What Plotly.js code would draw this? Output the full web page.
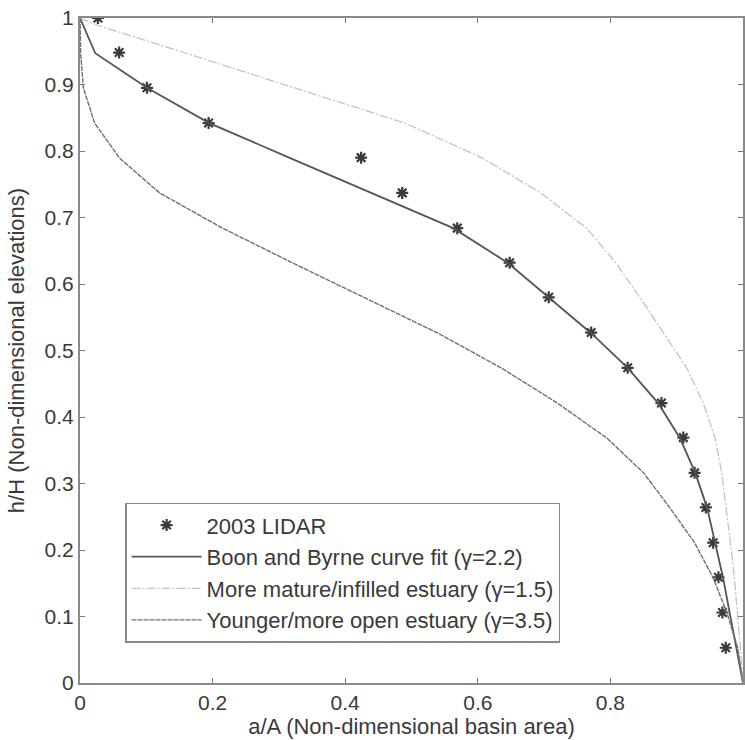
<!DOCTYPE html>
<html>
<head>
<meta charset="utf-8">
<script src="https://cdn.plot.ly/plotly-3.0.1.min.js"></script>
<style>
  html, body { margin: 0; padding: 0; background: #ffffff; }
  #chart { width: 745px; height: 740px; }
</style>
</head>
<body>
<div id="chart"></div>
<script>
// 2003 LIDAR observations
const lidarX = [0.027, 0.059, 0.101, 0.194, 0.424, 0.486, 0.569, 0.648, 0.707, 0.771, 0.826, 0.877, 0.910, 0.927, 0.944, 0.955, 0.963, 0.969, 0.974];
const lidarY = [1.000, 0.948, 0.895, 0.842, 0.790, 0.737, 0.684, 0.632, 0.580, 0.527, 0.474, 0.421, 0.369, 0.316, 0.264, 0.211, 0.159, 0.106, 0.053];

// Boon and Byrne curve fit (gamma = 2.2)
const fitX = [0, 0.023, 0.101, 0.195, 0.318, 0.440, 0.563, 0.645, 0.708, 0.771, 0.826, 0.872, 0.905, 0.928, 0.946, 0.958, 0.970, 0.980, 0.990, 1.000];
const fitY = [1, 0.947, 0.895, 0.842, 0.789, 0.737, 0.684, 0.632, 0.579, 0.526, 0.474, 0.421, 0.368, 0.316, 0.263, 0.211, 0.158, 0.105, 0.053, 0];

// More mature / infilled estuary (gamma = 1.5)
const matureX = [0, 0.030, 0.160, 0.323, 0.490, 0.608, 0.695, 0.764, 0.808, 0.845, 0.880, 0.915, 0.940, 0.958, 0.968, 0.975, 0.981, 0.987, 0.992, 0.996, 1.000];
const matureY = [1, 0.988, 0.947, 0.895, 0.842, 0.789, 0.737, 0.684, 0.632, 0.579, 0.526, 0.474, 0.421, 0.368, 0.316, 0.263, 0.211, 0.158, 0.105, 0.053, 0];

// Younger / more open estuary (gamma = 3.5)
const youngX = [0, 0.001, 0.005, 0.022, 0.060, 0.120, 0.215, 0.320, 0.430, 0.540, 0.635, 0.720, 0.795, 0.850, 0.890, 0.927, 0.955, 0.976, 0.992, 1.000];
const youngY = [1, 0.947, 0.895, 0.842, 0.789, 0.737, 0.684, 0.632, 0.579, 0.526, 0.474, 0.421, 0.368, 0.316, 0.263, 0.211, 0.158, 0.105, 0.053, 0];

const xTickVals = [0, 0.2, 0.4, 0.6, 0.8, 1];
const xTickText = ['0', '0.2', '0.4', '0.6', '0.8', ''];
const yTickVals = [0, 0.1, 0.2, 0.3, 0.4, 0.5, 0.6, 0.7, 0.8, 0.9, 1];
const yTickText = ['0', '0.1', '0.2', '0.3', '0.4', '0.5', '0.6', '0.7', '0.8', '0.9', '1'];

const seriesNames = [
  '2003 LIDAR',
  'Boon and Byrne curve fit (\u03b3=2.2)',
  'More mature/infilled estuary (\u03b3=1.5)',
  'Younger/more open estuary (\u03b3=3.5)'
];

const FONT = 'Liberation Sans, Arial, sans-serif';
const TXT = '#3a3a3a';

const traces = [
  {
    x: lidarX, y: lidarY, type: 'scatter', mode: 'markers', name: seriesNames[0],
    legendgroup: 'a',
    marker: { symbol: 'asterisk-open', size: 10, color: '#3a3a3a', line: { color: '#3a3a3a', width: 2.2 } }
  },
  {
    x: fitX, y: fitY, type: 'scatter', mode: 'lines', name: seriesNames[1],
    legendgroup: 'b',
    line: { color: '#555555', width: 1.8 }
  },
  {
    x: matureX, y: matureY, type: 'scatter', mode: 'lines', name: seriesNames[2],
    legendgroup: 'c',
    line: { color: '#c4c4c4', width: 1.3, dash: '9px,2px,2px,2px' }
  },
  {
    x: youngX, y: youngY, type: 'scatter', mode: 'lines', name: seriesNames[3],
    legendgroup: 'd',
    line: { color: '#707070', width: 1.4, dash: '5px,1px' }
  }
];

const layout = {
  width: 745, height: 740,
  margin: { l: 80, r: 2, t: 18, b: 57 },
  paper_bgcolor: '#ffffff', plot_bgcolor: '#ffffff',
  font: { family: FONT, color: TXT, size: 22 },
  showlegend: true,
  legend: {
    x: 0.068, y: 0.271, xanchor: 'left', yanchor: 'top',
    bgcolor: '#ffffff', bordercolor: '#8a8a8a', borderwidth: 1.5,
    font: { family: FONT, size: 22, color: TXT },
    traceorder: 'grouped', tracegroupgap: 0,
    itemwidth: 70
  },
  xaxis: {
    range: [0, 1], tickvals: xTickVals, ticktext: xTickText,
    showgrid: false, zeroline: false,
    showline: true, mirror: 'ticks', linecolor: '#8a8a8a', linewidth: 2,
    ticks: 'inside', ticklen: 5, tickcolor: '#777777', tickwidth: 1,
    tickfont: { family: FONT, size: 21, color: TXT },
    title: { text: 'a/A (Non-dimensional basin area)', font: { family: FONT, size: 22, color: TXT }, standoff: 0 }
  },
  yaxis: {
    range: [0, 1], tickvals: yTickVals, ticktext: yTickText,
    showgrid: false, zeroline: false,
    showline: true, mirror: 'ticks', linecolor: '#8a8a8a', linewidth: 2,
    ticks: 'inside', ticklen: 5, tickcolor: '#777777', tickwidth: 1,
    tickfont: { family: FONT, size: 21, color: TXT },
    title: { text: 'h/H (Non-dimensional elevations)', font: { family: FONT, size: 22, color: TXT }, standoff: 14 }
  }
};

Plotly.newPlot('chart', traces, layout, { displayModeBar: false, staticPlot: true });
</script>
</body>
</html>
